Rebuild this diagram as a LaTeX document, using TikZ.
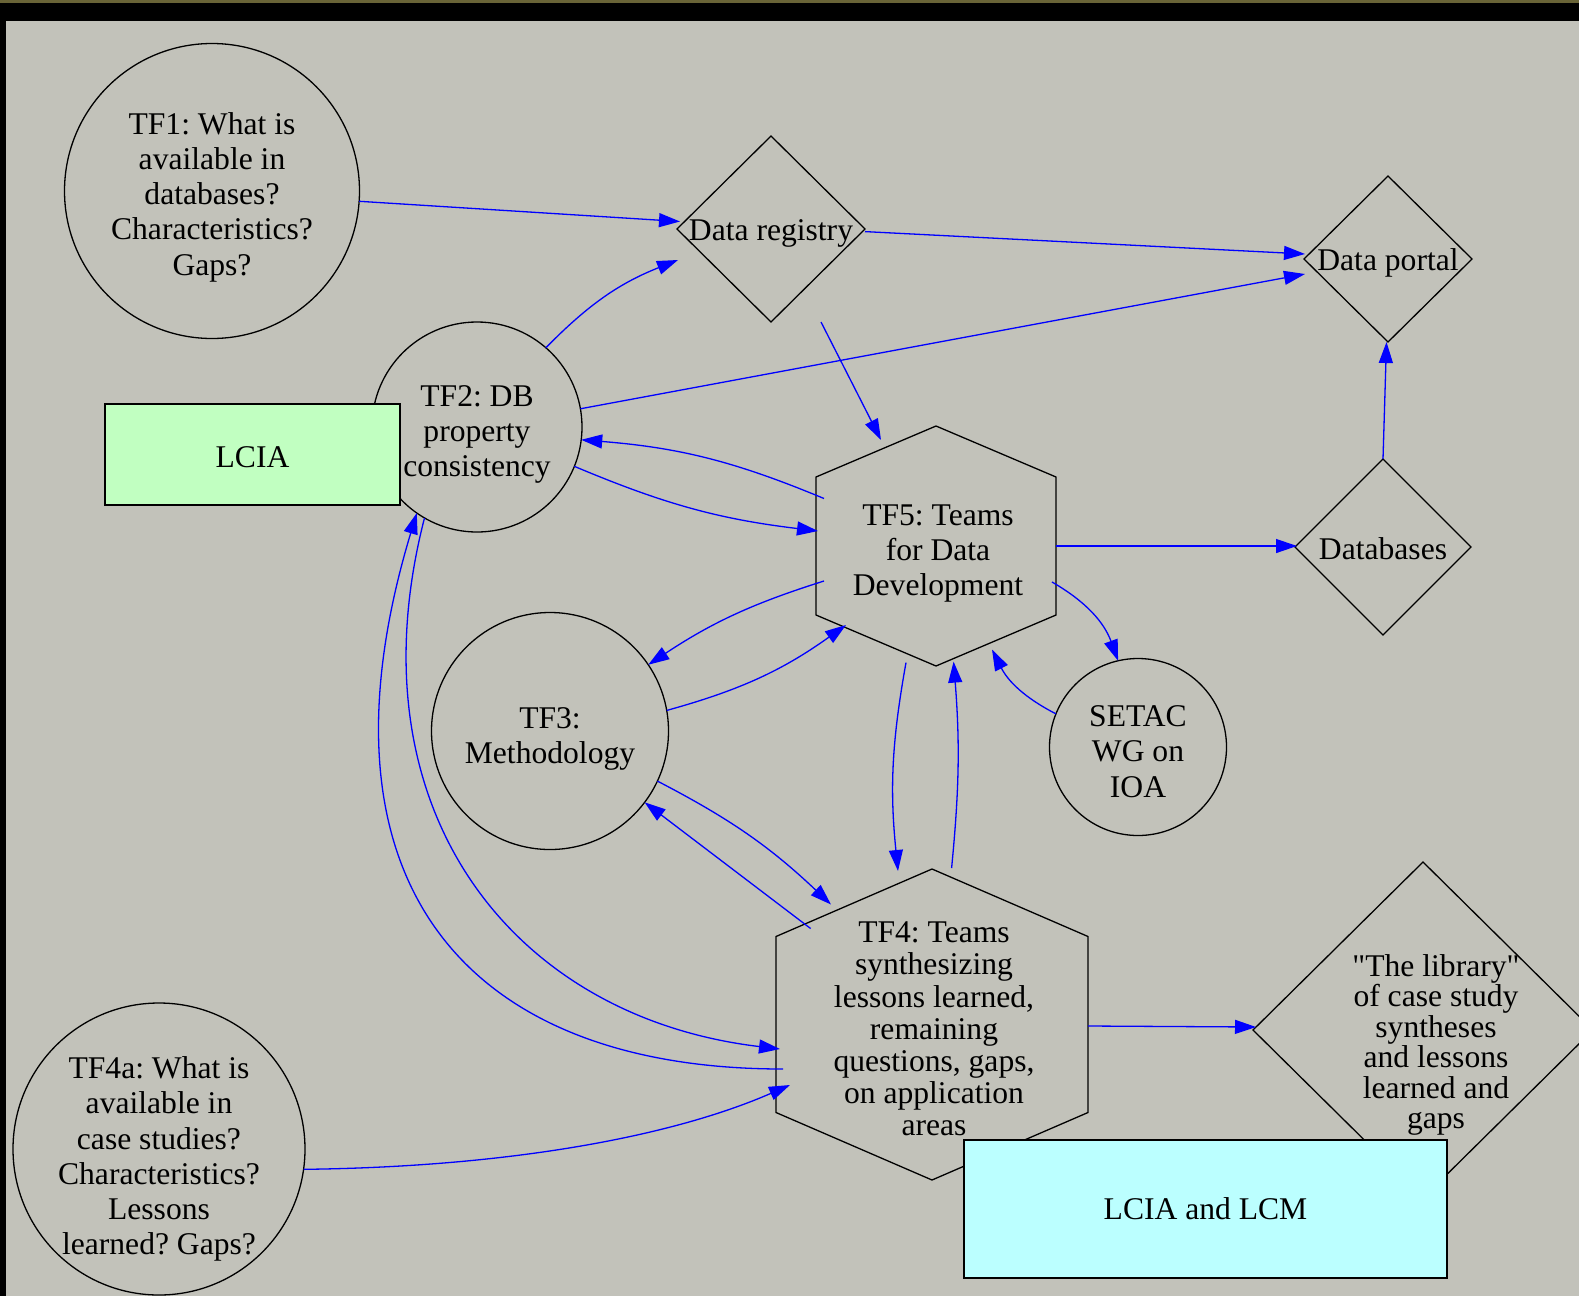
\documentclass[tikz,border=0pt]{standalone}
\usepackage{fontspec}
\newfontfamily\diafont{Liberation Serif}
\usetikzlibrary{arrows.meta}
\definecolor{bgc}{RGB}{194,194,186}
\definecolor{olivec}{RGB}{105,100,55}
\definecolor{lciag}{RGB}{193,255,193}
\definecolor{lcmc}{RGB}{187,255,255}
\definecolor{edgeblue}{RGB}{0,0,255}
\newcommand\liftstrut[1]{\rule{0pt}{#1pt}}
\frenchspacing
\tikzset{
 txt/.style={font=\diafont\fontsize{31.6}{35.2}\selectfont, align=center, inner sep=0pt, outer sep=0pt},
 circ/.style={txt, circle, draw=black, line width=1.3pt},
 shapebox/.style={txt, rectangle, draw=none},
 outline/.style={draw=black, line width=1.3pt, line join=miter},
 filledbox/.style={txt, rectangle, draw=black, line width=1.3pt},
 conn/.style={draw=edgeblue, line width=1.3pt, -{Triangle[length=21pt,width=14pt]}},
}
\begin{document}
\begin{tikzpicture}[x=1pt,y=-1pt]
\clip (0,0) rectangle (1579,1296);
\fill[bgc] (0,0) rectangle (1579,1296);
\fill[olivec] (0,0) rectangle (1579,3);
\fill[black] (0,3) rectangle (1579,21);
\fill[black] (0,3) rectangle (6,1296);

% nodes
\node[circ, minimum size=295pt] (tf1) at (212,191) {\liftstrut{34}TF1: What is\\available in\\databases?\\Characteristics?\\Gaps?};

\node[shapebox, minimum width=188pt, minimum height=186pt] (dr) at (771,229) {\liftstrut{30}Data registry};
\draw[outline] (dr.north) -- (dr.east) -- (dr.south) -- (dr.west) -- cycle;

\node[shapebox, minimum width=168pt, minimum height=166pt] (dp) at (1388,259) {\liftstrut{30}Data portal};
\draw[outline] (dp.north) -- (dp.east) -- (dp.south) -- (dp.west) -- cycle;

\node[circ, minimum size=210pt] (tf2) at (477,427) {\liftstrut{36}TF2: DB\\property\\consistency};
\node[filledbox, fill=lciag, minimum width=295pt, minimum height=101pt] (lcia) at (252.5,454.5) {\liftstrut{26}LCIA};

\node[shapebox, minimum width=240pt, minimum height=240pt] (tf5) at (938,546) {\liftstrut{36}TF5: Teams\\for Data\\Development};
\draw[outline] ([shift={(-2,-120)}]tf5.center) -- ([shift={(118,-69)}]tf5.center) -- ([shift={(118,69)}]tf5.center) -- ([shift={(-2,120)}]tf5.center) -- ([shift={(-122,69)}]tf5.center) -- ([shift={(-122,-69)}]tf5.center) -- cycle;

\node[shapebox, minimum width=176pt, minimum height=176pt] (db) at (1383,547) {\liftstrut{26}Databases};
\draw[outline] (db.north) -- (db.east) -- (db.south) -- (db.west) -- cycle;

\node[circ, minimum size=237pt] (tf3) at (550,731) {\liftstrut{36}TF3:\\Methodology};
\node[circ, minimum size=177pt] (setac) at (1138,747) {\liftstrut{30}SETAC\\WG on\\IOA};

\node[shapebox, minimum width=312pt, minimum height=311pt, font=\diafont\fontsize{31.6}{32.2}\selectfont] (tf4) at (934,1024.5) {\liftstrut{30}TF4: Teams\\synthesizing\\lessons learned,\\remaining\\questions, gaps,\\on application\\areas};
\draw[outline] ([shift={(-2,-155.5)}]tf4.center) -- ([shift={(154,-88)}]tf4.center) -- ([shift={(154,88)}]tf4.center) -- ([shift={(-2,155.5)}]tf4.center) -- ([shift={(-158,88)}]tf4.center) -- ([shift={(-158,-88)}]tf4.center) -- cycle;

\node[shapebox, minimum width=340pt, minimum height=336pt] (lib) at (1423,1030) {};
\draw[outline] (lib.north) -- (lib.east) -- (lib.south) -- (lib.west) -- cycle;
\node[txt, font=\diafont\fontsize{31.6}{30.5}\selectfont] (libtext) at (1436,1045) {"The library"\\of case study\\syntheses\\and lessons\\learned and\\gaps};

\node[filledbox, fill=lcmc, minimum width=483pt, minimum height=138pt] (lcm) at (1205.5,1209) {LCIA and LCM};

\node[circ, minimum size=292pt] (tf4a) at (159,1149) {};
\node[txt] (tf4atext) at (159,1159) {TF4a: What is\\available in\\case studies?\\Characteristics?\\Lessons\\learned? Gaps?};

% connectors
\draw[conn] (tf1.-4) -- ([shift={(-91,-7.5)}]dr.center);
\draw[conn] ([shift={(94,2.6)}]dr.center) -- ([shift={(-83,-5)}]dp.center);
\draw[conn] (tf2.49) to[bend left=12] ([shift={(-93,31)}]dr.center);
\draw[conn] (tf2.10) -- ([shift={(-83,15)}]dp.center);
\draw[conn] ([shift={(50,93)}]dr.center) -- ([shift={(-57,-106)}]tf5.center);
\draw[conn] ([shift={(-114,-47.5)}]tf5.center) to[bend right=9] (tf2.-7);
\draw[conn] (tf2.-22) to[bend right=8] ([shift={(-120,-15)}]tf5.center);
\draw[conn] ([shift={(118,0)}]tf5.center) -- ([shift={(-86,-1)}]db.center);
\draw[conn] (db.north) -- ([shift={(-1.5,83)}]dp.center);
\draw[conn] ([shift={(114,36)}]tf5.center) to[bend left=20] (setac.103);
\draw[conn] (setac.158) to[bend left=18] ([shift={(54,103.5)}]tf5.center);
\draw[conn] ([shift={(-114,35)}]tf5.center) to[bend right=8] (tf3.34);
\draw[conn] (tf3.10) to[bend right=10] ([shift={(-92,79)}]tf5.center);
\draw[conn] ([shift={(-32,116.6)}]tf5.center) to[bend right=8] ([shift={(-36,-153.5)}]tf4.center);
\draw[conn] ([shift={(17.6,-156.5)}]tf4.center) to[bend right=5] ([shift={(15.6,115.6)}]tf5.center);
\draw[conn] (tf3.-25) to[bend left=8] ([shift={(-103,-120)}]tf4.center);
\draw[conn] ([shift={(-123.4,-96)}]tf4.center) -- (tf3.-37.5);
\draw[conn] (tf2.240) .. controls (349.4,809.4) and (511.9,1017.1) .. ([shift={(-154,24.5)}]tf4.center);
\draw[conn] ([shift={(-151,44.5)}]tf4.center) .. controls (463,1069) and (306,880) .. (tf2.235);
\draw[conn] (tf4a.-8) .. controls (507,1167) and (671,1137) .. ([shift={(-144,60.5)}]tf4.center);
\draw[conn] ([shift={(154,1.5)}]tf4.center) -- ([shift={(-167,-3)}]lib.center);
\end{tikzpicture}
\end{document}
